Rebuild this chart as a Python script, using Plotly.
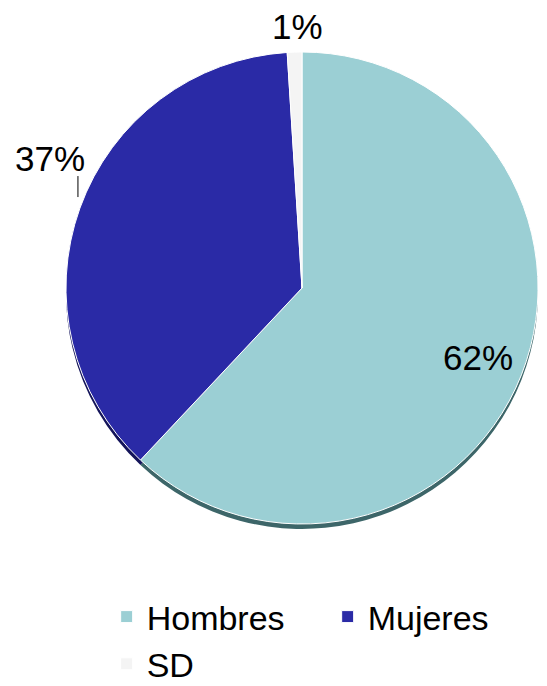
import math
import plotly.graph_objects as go

# Distribution by sex
categories = ["Hombres", "Mujeres", "SD"]
percentages = [62, 37, 1]

top_colors = ["#9bcfd4", "#2a2aa6", "#f4f4f4"]
rim_colors = ["#3d6669", "#14145a", "#b8b8b8"]

W, H = 547, 686
CX, CY, R = 302, 288, 236  # pie centre and radius in page pixels


def px_x(x):
    return x / W


def px_y(y):
    return 1 - y / H


def domain(dx=0, dy=0):
    return dict(
        x=[px_x(CX - R + dx), px_x(CX + R + dx)],
        y=[px_y(CY + R + dy), px_y(CY - R + dy)],
    )


fig = go.Figure()

# darker copy slightly lower gives the bevelled rim
fig.add_trace(go.Pie(
    labels=categories, values=percentages, sort=False, direction="clockwise",
    rotation=0, domain=domain(0, 5), textinfo="none", hoverinfo="skip",
    marker=dict(colors=rim_colors, line=dict(color="white", width=0)),
    showlegend=False,
))
fig.add_trace(go.Pie(
    labels=categories, values=percentages, sort=False, direction="clockwise",
    rotation=0, domain=domain(), textinfo="none",
    marker=dict(colors=top_colors, line=dict(color="white", width=1)),
    showlegend=True,
))

# slice mid-angles (clockwise from 12 o'clock)
total = sum(percentages)
mids = []
acc = 0
for v in percentages:
    mids.append((acc + v / 2) / total * 2 * math.pi)
    acc += v


def point(i, rf):
    a = mids[i]
    return CX + math.sin(a) * R * rf, CY - math.cos(a) * R * rf


font = dict(family="Liberation Sans, Arial, sans-serif", size=35, color="black")
annotations = []


def label(x, y, text):
    annotations.append(dict(x=px_x(x), y=px_y(y), text=text, showarrow=False,
                            font=font, xref="paper", yref="paper",
                            xanchor="center", yanchor="middle"))


# Hombres: inside the slice
x, y = point(0, 0.8)
label(x, y, f"{percentages[0]}%")

# Mujeres: outside with a short leader line
x, y = point(1, 1.0)
label(x - 30, y - 50, f"{percentages[1]}%")
shapes = [dict(type="line", xref="paper", yref="paper",
               x0=px_x(x - 2), y0=px_y(y - 11), x1=px_x(x - 2), y1=px_y(y - 32),
               line=dict(color="black", width=1))]

# SD: above the pie
x, y = point(2, 1.0)
label(x + 3, y - 26, f"{percentages[2]}%")

fig.update_layout(
    width=W, height=H,
    margin=dict(l=0, r=0, t=0, b=0, autoexpand=False),
    paper_bgcolor="white", plot_bgcolor="white",
    annotations=annotations, shapes=shapes,
    legend=dict(
        orientation="h", x=0.195, xanchor="left", y=px_y(588), yanchor="top",
        font=dict(font, size=34), entrywidth=176, entrywidthmode="pixels",
        traceorder="normal", itemclick=False, tracegroupgap=0,
    ),
)

fig.write_html("out.html")
